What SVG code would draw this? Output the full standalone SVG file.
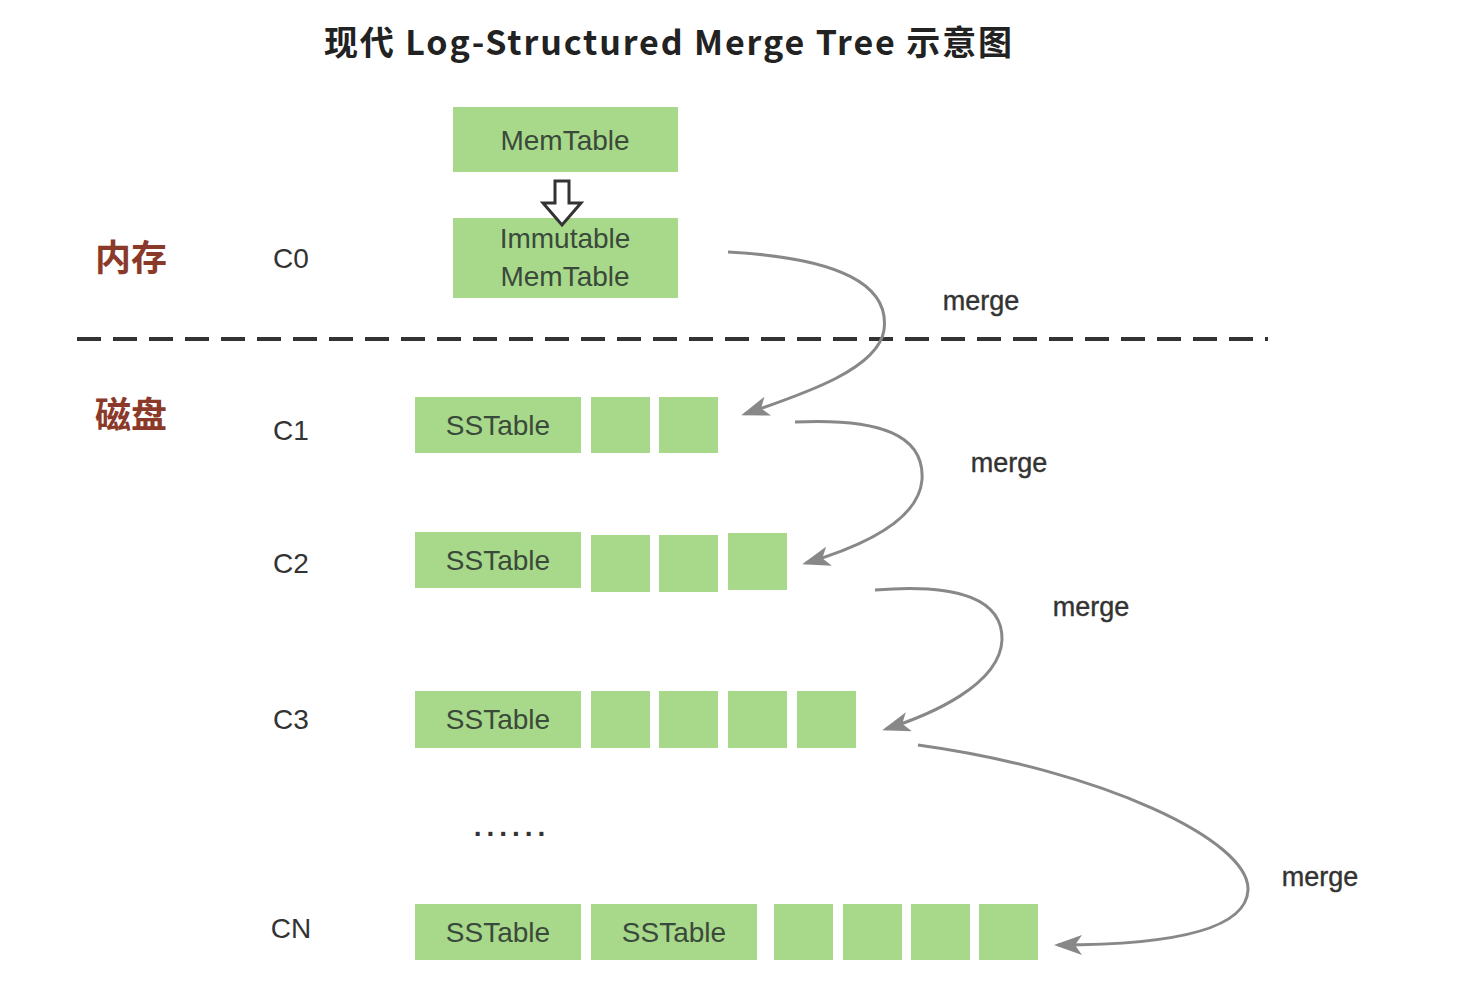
<svg xmlns="http://www.w3.org/2000/svg" width="1458" height="998" viewBox="0 0 1458 998">
<style>
.b{fill:#a8d88a}
.t{font-family:"Liberation Sans","Noto Sans CJK SC",sans-serif;font-size:28px;fill:#3a4a3a;text-anchor:middle}
.l{font-family:"Liberation Sans",sans-serif;font-size:28px;fill:#333;text-anchor:middle}
.m{font-family:"Liberation Sans",sans-serif;font-size:27px;fill:#333;text-anchor:middle;stroke:#333;stroke-width:0.4}
.cn{font-family:"Noto Sans CJK SC",sans-serif;font-size:36px;font-weight:bold;fill:#8b3a2a;text-anchor:middle}
.c{fill:none;stroke:#888;stroke-width:3}
</style>
<defs><marker id="a" markerWidth="28" markerHeight="20" refX="24" refY="10" orient="auto" markerUnits="userSpaceOnUse" viewBox="0 0 28 20"><path d="M0,0 L28,10 L0,20 L7,10 Z" fill="#888"/></marker></defs>
<rect width="1458" height="998" fill="#fff"/>
<text x="668" y="55" font-family="Noto Sans CJK SC,sans-serif" font-size="34" font-weight="bold" fill="#222" text-anchor="middle" textLength="688" lengthAdjust="spacing">现代 Log-Structured Merge Tree 示意图</text>
<line x1="77" y1="339" x2="1268" y2="339" stroke="#333" stroke-width="4" stroke-dasharray="24,12"/>
<text class="cn" x="131" y="271">内存</text>
<text class="cn" x="131" y="428">磁盘</text>
<text class="l" x="291" y="268">C0</text>
<text class="l" x="291" y="440">C1</text>
<text class="l" x="291" y="573">C2</text>
<text class="l" x="291" y="729">C3</text>
<text class="l" x="291" y="938">CN</text>
<text class="l" x="512" y="836" font-weight="bold" letter-spacing="5">......</text>
<g id="memtable"><rect class="b" x="453" y="107" width="225" height="65"/><text class="t" x="565" y="150">MemTable</text></g>
<g id="immutable"><rect class="b" x="453" y="218" width="225" height="80"/><text class="t" x="565" y="248">Immutable</text><text class="t" x="565" y="286">MemTable</text></g>
<g id="flush"><path d="M555,181 L569,181 L569,203 L581,203 L562,225 L543,203 L555,203 Z" fill="#fff" stroke="#333" stroke-width="3"/></g>
<g id="c1"><rect class="b" x="415" y="397" width="166" height="56"/><text class="t" x="498" y="435">SSTable</text><rect class="b" x="591" y="397" width="59" height="56"/><rect class="b" x="659" y="397" width="59" height="56"/></g>
<g id="c2"><rect class="b" x="415" y="532" width="166" height="56"/><text class="t" x="498" y="570">SSTable</text><rect class="b" x="591" y="535" width="59" height="57"/><rect class="b" x="659" y="535" width="59" height="57"/><rect class="b" x="728" y="533" width="59" height="57"/></g>
<g id="c3"><rect class="b" x="415" y="691" width="166" height="57"/><text class="t" x="498" y="729">SSTable</text><rect class="b" x="591" y="691" width="59" height="57"/><rect class="b" x="659" y="691" width="59" height="57"/><rect class="b" x="728" y="691" width="59" height="57"/><rect class="b" x="797" y="691" width="59" height="57"/></g>
<g id="cn"><rect class="b" x="415" y="904" width="166" height="56"/><text class="t" x="498" y="942">SSTable</text><rect class="b" x="591" y="904" width="166" height="56"/><text class="t" x="674" y="942">SSTable</text><rect class="b" x="774" y="904" width="59" height="56"/><rect class="b" x="843" y="904" width="59" height="56"/><rect class="b" x="911" y="904" width="59" height="56"/><rect class="b" x="979" y="904" width="59" height="56"/></g>
<g id="connectors">
<path class="c" d="M728,252 C840,258 890,285 884,330 C878,370 800,395 745,414" marker-end="url(#a)"/>
<path class="c" d="M795,422 C880,418 925,435 922,480 C918,525 850,550 806,563" marker-end="url(#a)"/>
<path class="c" d="M875,590 C960,583 1003,600 1002,640 C1000,685 930,715 886,729" marker-end="url(#a)"/>
<path class="c" d="M918,745 C1100,770 1250,840 1248,890 C1246,935 1150,945 1058,945" marker-end="url(#a)"/>
</g>
<text class="m" x="981" y="310">merge</text>
<text class="m" x="1009" y="472">merge</text>
<text class="m" x="1091" y="616">merge</text>
<text class="m" x="1320" y="886">merge</text>
</svg>
